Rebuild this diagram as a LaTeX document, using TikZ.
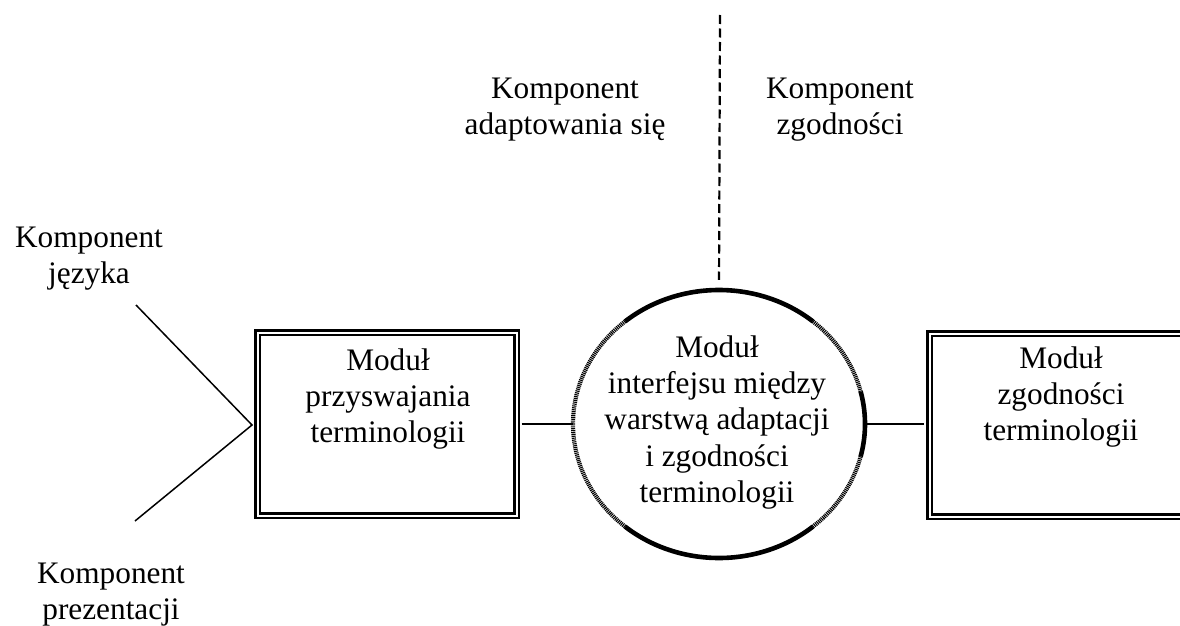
\documentclass[tikz,border=0pt]{standalone}
\usepackage{fontspec}
\setmainfont{Liberation Serif}
\usetikzlibrary{shapes.geometric}
\begin{document}
\begin{tikzpicture}[x=1pt,y=-1pt,
  txt/.style={font=\fontsize{31.3}{36.3}\selectfont, align=center, inner sep=0pt, anchor=north},
  modbox/.style={draw, line width=2.7pt, double, double distance=2.0pt,
                 minimum width=259pt, minimum height=183pt, inner sep=0pt},
  wire/.style={line width=1.7pt},
  divider/.style={line width=2.2pt, dash pattern=on 9pt off 4.5pt},
  ringsolid/.style={line width=4.6pt},
  ringhatch/.style={line width=4.2pt, dash pattern=on 1.1pt off 0.8pt},
]
\useasboundingbox (0,0) rectangle (1180,626);
\clip (0,0) rectangle (1180,626);

% module boxes
\node[modbox] (acq)  at (387,424) {};
\node[modbox] (conf) at (1059,425) {};
\node[txt] (acqtxt)  at (388,344.6) {\strut Moduł\\przyswajania\\terminologii};
\node[txt] (conftxt) at (1061,342.6) {\strut Moduł\\zgodności\\terminologii};

% interface module (ring)
\node[ellipse, minimum width=292pt, minimum height=268pt, inner sep=0pt] (iface) at (719,424) {};
\draw[ringsolid] (iface.center) ++(50:146 and 134)  arc[start angle=50,  end angle=130, x radius=146, y radius=134];
\draw[ringsolid] (iface.center) ++(230:146 and 134) arc[start angle=230, end angle=310, x radius=146, y radius=134];
\draw[ringsolid] (iface.center) ++(-14:146 and 134) arc[start angle=-14, end angle=14,  x radius=146, y radius=134];
\draw[ringhatch] (iface.center) ++(14:146 and 134)  arc[start angle=14,  end angle=50,  x radius=146, y radius=134];
\draw[ringhatch] (iface.center) ++(130:146 and 134) arc[start angle=130, end angle=230, x radius=146, y radius=134];
\draw[ringhatch] (iface.center) ++(310:146 and 134) arc[start angle=310, end angle=346, x radius=146, y radius=134];
\node[txt] (ifacetxt) at (717,331.6) {\strut Moduł\\interfejsu między\\warstwą adaptacji\\i zgodności\\terminologii};

% connectors
\draw[wire, shorten <=3.8pt] (acq.east) -- (acq.east -| iface.west);
\draw[wire, shorten >=3.8pt] (iface.east) -- (iface.east -| conf.west);

% incoming components
\coordinate (vtop) at (136,305);
\coordinate (vtip) at (252,425);
\coordinate (vbot) at (135,521);
\draw[wire, line width=1.5pt] (vtop) -- (vtip) -- (vbot);

% dashed divider above the interface
\coordinate (dtop) at (720,15);
\draw[divider, shorten >=10pt] (dtop) -- (iface.north);

% component labels
\node[txt] (lang)  at (89,221.6)  {\strut Komponent\\języka};
\node[txt] (adapt) at (565,72.6)  {\strut Komponent\\adaptowania się};
\node[txt] (zgod)  at (840,72.6)  {\strut Komponent\\zgodności};
\node[txt] (prez)  at (111,557.6) {\strut Komponent\\prezentacji};
\end{tikzpicture}
\end{document}
